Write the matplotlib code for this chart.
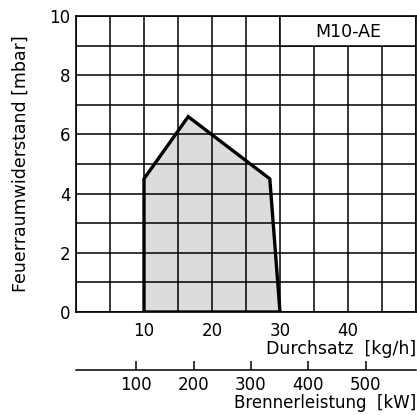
import matplotlib
matplotlib.use("Agg")
import matplotlib.pyplot as plt
from matplotlib.patches import Polygon, Rectangle

# working range of the burner (Durchsatz kg/h, Feuerraumwiderstand mbar)
durchsatz = [10, 10, 16.5, 28.5, 30]
widerstand = [0, 4.5, 6.6, 4.5, 0]

x_ticks = [0, 5, 10, 15, 20, 25, 30, 35, 40, 45, 50]
x_labels = ["", "", "10", "", "20", "", "30", "", "40", "", ""]
y_ticks = [0, 1, 2, 3, 4, 5, 6, 7, 8, 9, 10]
y_labels = ["0", "", "2", "", "4", "", "6", "", "8", "", "10"]
kw_ticks = [100, 200, 300, 400, 500]
model = "M10-AE"

# kW per kg/h (heating oil) plus small offset
KW_FACTOR = 11.86
KW_OFFSET = -5.0

plt.rcParams["font.family"] = ["DejaVu Sans"]
plt.rcParams["font.size"] = 12

fig = plt.figure(figsize=(4.17, 4.15), dpi=100)
ax = fig.add_axes([76 / 417, 103 / 415, 340 / 417, 296 / 415])

ax.set_xlim(0, 50)
ax.set_ylim(0, 10)
ax.set_xticks(x_ticks)
ax.set_xticklabels(x_labels)
ax.set_yticks(y_ticks)
ax.set_yticklabels(y_labels)
ax.tick_params(axis="both", length=0)
ax.tick_params(axis="x", pad=7)
ax.tick_params(axis="y", pad=4)
ax.grid(True, color="black", linewidth=1.1)
for s in ax.spines.values():
    s.set_linewidth(1.2)

pts = list(zip(durchsatz, widerstand))
ax.add_patch(Polygon(pts, closed=True, facecolor="#dcdcdc", edgecolor="none", zorder=1.5))
ax.add_patch(Polygon(pts, closed=True, facecolor="none", edgecolor="black",
                     linewidth=2.4, joinstyle="miter", zorder=3))

# label box in the top right corner
ax.add_patch(Rectangle((30, 9), 20, 1, facecolor="white", edgecolor="black",
                       linewidth=1.1, zorder=2.5))
ax.text(40, 9.45, model, ha="center", va="center", fontsize=12.5, zorder=4)

ax.set_ylabel("Feuerraumwiderstand [mbar]", fontsize=12.5)
ax.yaxis.set_label_coords(-0.135, 0.5)
ax.set_xlabel("Durchsatz  [kg/h]", loc="right", labelpad=0, fontsize=12.5)

ax2 = ax.secondary_xaxis(-0.196, functions=(lambda x: x * KW_FACTOR + KW_OFFSET,
                                           lambda k: (k - KW_OFFSET) / KW_FACTOR))
ax2.set_xticks(kw_ticks)
ax2.tick_params(direction="in", length=6.5, width=1.1, pad=4)
ax2.spines["bottom"].set_linewidth(1.1)
ax2.set_xlabel("Brennerleistung  [kW]", loc="right", labelpad=0, fontsize=12)

fig.savefig("out.png", dpi=100)
